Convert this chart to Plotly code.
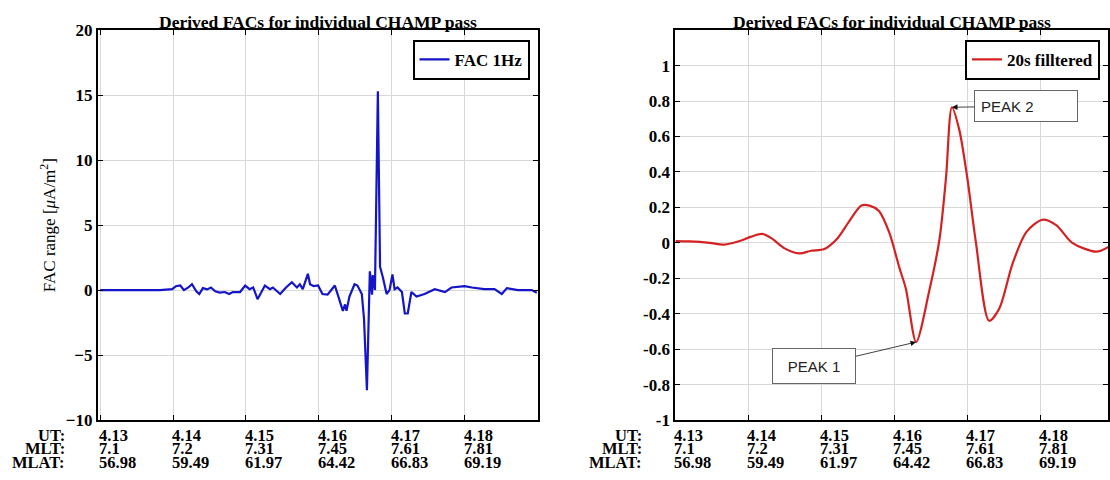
import plotly.graph_objects as go

# ---------------- data ----------------
ut_ticks = [4.13, 4.14, 4.15, 4.16, 4.17, 4.18]
ut_labels = ["4.13", "4.14", "4.15", "4.16", "4.17", "4.18"]
mlt_labels = ["7.1", "7.2", "7.31", "7.45", "7.61", "7.81"]
mlat_labels = ["56.98", "59.49", "61.97", "64.42", "66.83", "69.19"]
row_names = ["UT:", "MLT:", "MLAT:"]

fac1hz_ut = [4.1300, 4.1341, 4.1382, 4.1399, 4.1404, 4.1410, 4.1415, 4.1421, 4.1426, 4.1432,
             4.1436, 4.1441, 4.1447, 4.1452, 4.1458, 4.1464, 4.1471, 4.1477, 4.1482, 4.1492,
             4.1499, 4.1505, 4.1510, 4.1516, 4.1526, 4.1533, 4.1537, 4.1547, 4.1555, 4.1563,
             4.1570, 4.1574, 4.1578, 4.1585, 4.1588, 4.1593, 4.1599, 4.1605, 4.1612, 4.1616,
             4.1622, 4.1626, 4.1629, 4.1633, 4.1636, 4.1638, 4.1642, 4.1649, 4.1653, 4.1659,
             4.1662, 4.1664, 4.1666, 4.1670, 4.1673, 4.1674, 4.1677, 4.1681, 4.1684, 4.1688,
             4.1693, 4.1697, 4.1701, 4.1704, 4.1708, 4.1714, 4.1718, 4.1722, 4.1727, 4.1734,
             4.1745, 4.1759, 4.1773, 4.1782, 4.1800, 4.1810, 4.1827, 4.1841, 4.1851, 4.1858,
             4.1873, 4.1892, 4.1899]
fac1hz_val = [0.0, 0.0, 0.0, 0.07, 0.3, 0.35, 0.0, 0.2, 0.45, -0.1,
              -0.3, 0.15, 0.05, 0.2, -0.1, -0.2, -0.15, -0.3, -0.15, -0.15,
              0.35, 0.07, 0.2, -0.7, 0.35, 0.07, 0.2, -0.3, 0.2, 0.6,
              0.2, 0.45, 0.07, 1.25, 0.45, 0.3, 0.35, -0.3, -0.35, -0.07,
              0.35, -0.35, -0.9, -1.6, -1.1, -1.6, -0.5, 0.45, 0.35, -0.3,
              -2.2, -4.9, -7.7, 1.45, -0.35, 1.15, 0.0, 15.3, 1.8, 0.95,
              -0.3, 0.0, 1.2, 0.07, 0.2, -0.15, -1.8, -1.8, -0.15, -0.5,
              -0.3, 0.07, -0.15, 0.2, 0.3, 0.2, 0.07, 0.07, -0.3, 0.15,
              0.0, 0.0, -0.2]

fac20s_ut = [4.1300, 4.1319, 4.1347, 4.1367, 4.1388, 4.1404, 4.1419, 4.1432, 4.1449, 4.1470,
             4.1486, 4.1504, 4.1522, 4.1538, 4.1555, 4.1566, 4.1579, 4.1593, 4.1607, 4.1616,
             4.1630, 4.1648, 4.1662, 4.1671, 4.1679, 4.1689, 4.1700, 4.1712, 4.1730, 4.1744,
             4.1762, 4.1781, 4.1803, 4.1822, 4.1844, 4.1877, 4.1895]
fac20s_val = [0.01, 0.008, 0.0, -0.01, 0.01, 0.035, 0.05, 0.025, -0.03, -0.06,
              -0.045, -0.035, 0.025, 0.12, 0.21, 0.21, 0.18, 0.06, -0.14, -0.26,
              -0.56, -0.27, 0.02, 0.37, 0.765, 0.64, 0.37, 0.0, -0.44, -0.37,
              -0.12, 0.06, 0.13, 0.10, 0.0, -0.05, -0.02]

peak1 = (4.1630, -0.56)
peak2 = (4.1679, 0.765)

right_yticks = [-1, -0.8, -0.6, -0.4, -0.2, 0, 0.2, 0.4, 0.6, 0.8, 1]
right_yticktext = ["-1", "-0.8", "-0.6", "-0.4", "-0.2", "0", "0.2", "0.4", "0.6", "0.8", "1"]
left_yticks = [-10, -5, 0, 5, 10, 15, 20]

title_text = "Derived FACs for individual CHAMP pass"

# ---------------- figure ----------------
W, H = 1110, 480
SERIF = "Liberation Serif"

def px(x):
    return x / W

def py(y):
    return 1 - y / H

fig = go.Figure()
fig.add_trace(go.Scatter(x=fac1hz_ut, y=fac1hz_val, mode="lines", name="FAC 1Hz",
                         line=dict(color="#1414c8", width=2.2), xaxis="x", yaxis="y",
                         legend="legend"))
fig.add_trace(go.Scatter(x=fac20s_ut, y=fac20s_val, mode="lines", name="20s filltered",
                         line=dict(color="#d42222", width=2.2, shape="spline", smoothing=0.8),
                         xaxis="x2", yaxis="y2", legend="legend2"))

L = (98, 538)
R = (676, 1109)
TOP, BOT = 22, 428

axis_common = dict(showline=True, linecolor="black", linewidth=2, mirror="ticks",
                   ticks="inside", ticklen=5, tickcolor="black", tickwidth=1.2,
                   showgrid=True, gridcolor="#d8d8d8", gridwidth=1, zeroline=False,
                   tickfont=dict(family=SERIF, size=17, color="black", weight="bold"))

legend_common = dict(xanchor="right", yanchor="top", bordercolor="black", borderwidth=2,
                     bgcolor="white", itemwidth=30, tracegroupgap=0,
                     font=dict(family=SERIF, size=17, color="black", weight="bold"))

fig.update_layout(
    width=W, height=H, margin=dict(l=0, r=0, t=0, b=0),
    paper_bgcolor="white", plot_bgcolor="white",
    xaxis=dict(domain=[px(L[0]), px(L[1])], range=[4.1297, 4.1900], tickvals=ut_ticks,
               showticklabels=False, anchor="y", **axis_common),
    yaxis=dict(domain=[py(BOT), py(TOP)], range=[-10, 20], tickvals=left_yticks,
               anchor="x",
               title=dict(text="FAC range [<i>μ</i>A/m<sup>2</sup>]", standoff=6,
                          font=dict(family=SERIF, size=17, color="black")),
               **axis_common),
    xaxis2=dict(domain=[px(R[0]), px(R[1])], range=[4.1300, 4.1893], tickvals=ut_ticks,
                showticklabels=False, anchor="y2", **axis_common),
    yaxis2=dict(domain=[py(BOT), py(TOP)], range=[-1, 1.2], tickvals=right_yticks,
                ticktext=right_yticktext, anchor="x2", **axis_common),
    legend=dict(x=px(530), y=py(32), **legend_common),
    legend2=dict(x=px(1101), y=py(32), **legend_common),
    showlegend=True,
)

annotations = []
# titles
for (a, b) in (L, R):
    annotations.append(dict(x=px((a + b) / 2), y=py(14), xref="paper", yref="paper",
                            text=title_text, showarrow=False, xanchor="center", yanchor="middle",
                            font=dict(family=SERIF, size=17.5, color="black", weight="bold")))

# multi-row x tick labels
row_y = [444, 458, 472]
rows = [ut_labels, mlt_labels, mlat_labels]
for xref, (a, b) in (("x", L), ("x2", R)):
    for name, yy in zip(row_names, row_y):
        annotations.append(dict(x=px(a - 31), y=py(yy), xref="paper", yref="paper",
                                text=name, showarrow=False, xanchor="right", yanchor="middle",
                                font=dict(family=SERIF, size=16.5, color="black", weight="bold")))
    for labels, yy in zip(rows, row_y):
        for tv, lab in zip(ut_ticks, labels):
            annotations.append(dict(x=tv, y=py(yy), xref=xref, yref="paper", text=lab,
                                    showarrow=False, xanchor="left", yanchor="middle", xshift=-3,
                                    font=dict(family=SERIF, size=16.5, color="black", weight="bold")))

# peak annotations
annotations.append(dict(x=peak2[0], y=peak2[1], xref="x2", yref="y2", text="PEAK 2",
                        showarrow=True, ax=74, ay=-1, arrowhead=2, arrowsize=1.4,
                        arrowwidth=0.8, arrowcolor="#111", standoff=0,
                        bordercolor="#666", borderwidth=1, borderpad=6, width=90, height=18,
                        align="left", bgcolor="white",
                        font=dict(family="Liberation Sans", size=15, color="#222")))
annotations.append(dict(x=peak1[0], y=peak1[1], xref="x2", yref="y2", text="PEAK 1",
                        showarrow=True, ax=-102, ay=24, arrowhead=2, arrowsize=1.4,
                        arrowwidth=0.8, arrowcolor="#111", standoff=0,
                        bordercolor="#666", borderwidth=1, borderpad=6, width=70, height=22,
                        align="center", bgcolor="white",
                        font=dict(family="Liberation Sans", size=15, color="#222")))

fig.update_layout(annotations=annotations)
fig.write_html("out.html")
